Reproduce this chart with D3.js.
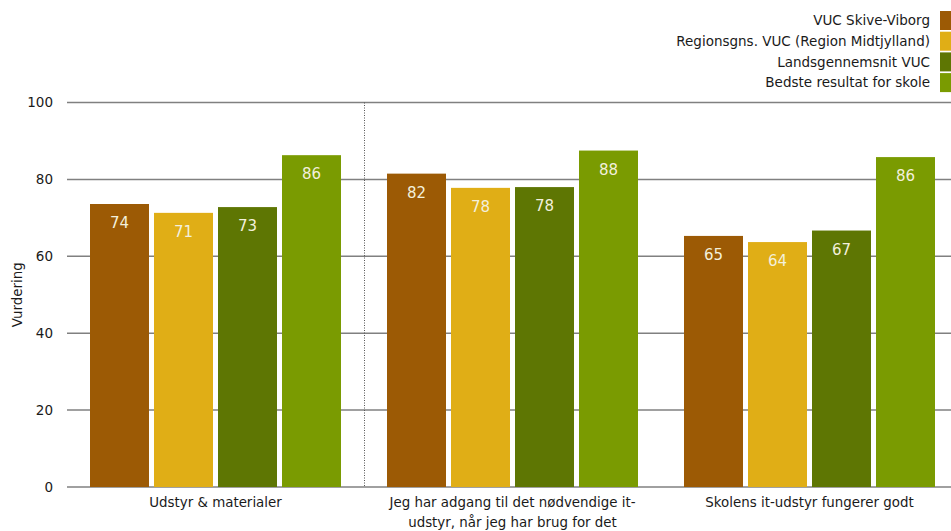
<!DOCTYPE html>
<html>
<head>
<meta charset="utf-8">
<script src="https://cdn.jsdelivr.net/npm/d3@7"></script>
<style>
  body { margin: 0; background: #fff; overflow: hidden; }
  svg text { font-family: "DejaVu Sans", Verdana, sans-serif; fill: #1a1a1a; }
</style>
</head>
<body>
<svg id="chart" width="951" height="531"></svg>
<script>
// categories (x-axis), one line per array entry
var categories = [
    ["Udstyr & materialer"],
    ["Jeg har adgang til det nødvendige it-", "udstyr, når jeg har brug for det"],
    ["Skolens it-udstyr fungerer godt"]
];
var seriesNames = [
    "VUC Skive-Viborg",
    "Regionsgns. VUC (Region Midtjylland)",
    "Landsgennemsnit VUC",
    "Bedste resultat for skole"
];
var seriesColors = ["#9c5a05", "#e0ae16", "#5e7603", "#7a9b01"];

// values per series, one entry per category
var skiveViborg = [73.6, 81.5, 65.3];
var regionsgns = [71.3, 77.8, 63.7];
var landsgns = [72.8, 78.0, 66.7];
var bedste = [86.3, 87.5, 85.8];

var yTicks = [0, 20, 40, 60, 80, 100];

var series = [skiveViborg, regionsgns, landsgns, bedste];

var svg = d3.select("#chart");
var margin = {left: 67, top: 102.5, bottom: 487};

var x0 = d3.scaleBand()
    .domain(d3.range(categories.length))
    .range([margin.left, margin.left + 3 * 297])
    .padding(0);

var x1 = d3.scaleBand()
    .domain(d3.range(series.length))
    .range([23, x0.bandwidth() - 23])
    .paddingInner(5 / 64);

var y = d3.scaleLinear()
    .domain([0, 100])
    .range([margin.bottom, margin.top]);

// gridlines
var grid = svg.append("g").attr("class", "grid");
grid.selectAll("line")
    .data(yTicks)
    .enter().append("line")
    .attr("x1", margin.left)
    .attr("x2", 951)
    .attr("y1", function (d) { return y(d); })
    .attr("y2", function (d) { return y(d); })
    .attr("stroke", "#808080")
    .attr("stroke-width", 1.5);

grid.selectAll("text")
    .data(yTicks)
    .enter().append("text")
    .attr("x", 53)
    .attr("y", function (d) { return y(d); })
    .attr("dy", "0.36em")
    .attr("text-anchor", "end")
    .style("font-size", "13.5px")
    .text(function (d) { return d; });

// dotted separator after first group
svg.append("line")
    .attr("x1", x0(1) + 0.5)
    .attr("x2", x0(1) + 0.5)
    .attr("y1", y(100))
    .attr("y2", y(0))
    .attr("stroke", "#555")
    .attr("stroke-width", 1)
    .attr("stroke-dasharray", "1,1.5");

// bars
var groups = svg.selectAll("g.cat")
    .data(categories)
    .enter().append("g")
    .attr("class", "cat")
    .attr("transform", function (d, i) { return "translate(" + x0(i) + ",0)"; });

groups.each(function (c, ci) {
    var g = d3.select(this);
    var vals = series.map(function (s, si) { return {s: si, v: s[ci]}; });
    g.selectAll("rect")
        .data(vals)
        .enter().append("rect")
        .attr("x", function (d) { return x1(d.s); })
        .attr("width", x1.bandwidth())
        .attr("y", function (d) { return y(d.v); })
        .attr("height", function (d) { return y(0) - y(d.v); })
        .attr("fill", function (d) { return seriesColors[d.s]; });
    g.selectAll("text.val")
        .data(vals)
        .enter().append("text")
        .attr("class", "val")
        .attr("x", function (d) { return x1(d.s) + x1.bandwidth() / 2; })
        .attr("y", function (d) { return y(d.v) + 24; })
        .attr("text-anchor", "middle")
        .style("font-size", "15px")
        .style("fill", "#f3f0dc")
        .text(function (d) { return Math.round(d.v); });
});

// x category labels
var xl = svg.selectAll("text.xlab")
    .data(categories)
    .enter().append("text")
    .attr("class", "xlab")
    .attr("x", function (d, i) { return x0(i) + x0.bandwidth() / 2; })
    .attr("y", 507)
    .attr("text-anchor", "middle")
    .style("font-size", "13.4px");
xl.selectAll("tspan")
    .data(function (d) { return d; })
    .enter().append("tspan")
    .attr("x", function () { return this.parentNode.getAttribute("x"); })
    .attr("dy", function (d, i) { return i ? 19.5 : 0; })
    .text(function (d) { return d; });

// y axis title
svg.append("text")
    .attr("transform", "translate(22," + ((y(0) + y(100)) / 2) + ") rotate(-90)")
    .attr("text-anchor", "middle")
    .style("font-size", "13.4px")
    .text("Vurdering");

// legend
var legend = svg.selectAll("g.legend")
    .data(seriesNames)
    .enter().append("g")
    .attr("class", "legend")
    .attr("transform", function (d, i) { return "translate(0," + (11 + i * 20.7) + ")"; });
legend.append("rect")
    .attr("x", 940)
    .attr("width", 15)
    .attr("height", 19)
    .attr("fill", function (d, i) { return seriesColors[i]; });
legend.append("text")
    .attr("x", 930)
    .attr("y", 9.5)
    .attr("dy", "0.36em")
    .attr("text-anchor", "end")
    .style("font-size", "13.5px")
    .text(function (d) { return d; });
</script>
</body>
</html>
